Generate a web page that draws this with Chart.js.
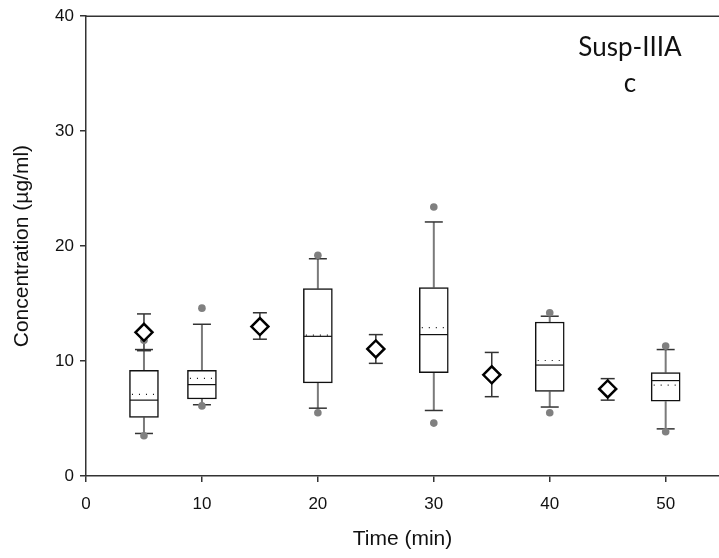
<!DOCTYPE html>
<html>
<head>
<meta charset="utf-8">
<script src="https://cdn.jsdelivr.net/npm/chart.js@4.4.1/dist/chart.umd.min.js"></script>
<style>
  body { margin: 0; background: #fff; }
  canvas { display: block; }
</style>
</head>
<body>
<canvas id="chart" width="719" height="558"></canvas>
<script>
// box plots
const boxX = [5, 10, 20, 30, 40, 50];
const boxQ1 = [5.1, 6.7, 8.1, 9.0, 7.35, 6.5];
const boxMedian = [6.6, 7.95, 12.15, 12.3, 9.65, 8.3];
const boxQ3 = [9.2, 9.2, 16.3, 16.4, 13.4, 9.0];
const boxMean = [7.1, 8.5, 12.25, 12.9, 10.05, 7.9];
const whiskLow = [3.7, 6.2, 5.9, 5.7, 6.0, 4.1];
const whiskHigh = [11.0, 13.2, 18.9, 22.1, 13.9, 11.0];
const outLow = [3.5, 6.1, 5.5, 4.6, 5.5, 3.85];
const outHigh = [11.8, 14.6, 19.2, 23.4, 14.2, 11.3];

// diamonds with error bars
const diaX = [5, 15, 25, 35, 45];
const diaMean = [12.5, 13.0, 11.05, 8.8, 7.57];
const diaLow = [10.9, 11.9, 9.8, 6.9, 6.6];
const diaHigh = [14.1, 14.2, 12.3, 10.75, 8.47];

const xTicks = [0, 10, 20, 30, 40, 50];
const yTicks = [0, 10, 20, 30, 40];

const ctx = document.getElementById('chart').getContext('2d');

const boxData = boxX.map((x, i) => ({ x: x, y: [boxQ1[i], boxQ3[i]] }));
const outlierData = [];
boxX.forEach((x, i) => {
    outlierData.push({ x: x, y: outLow[i] });
    outlierData.push({ x: x, y: outHigh[i] });
});
const diaData = diaX.map((x, i) => ({ x: x, y: diaMean[i] }));

function hLine(c, x1, x2, y) {
    c.beginPath();
    c.moveTo(x1, y);
    c.lineTo(x2, y);
    c.stroke();
}

function vLine(c, x, y1, y2) {
    c.beginPath();
    c.moveTo(x, y1);
    c.lineTo(x, y2);
    c.stroke();
}

const boxExtras = {
    id: 'boxExtras',
    beforeDatasetsDraw(chart) {
        const c = chart.ctx;
        const xs = chart.scales.x, ys = chart.scales.y;
        c.save();
        // whiskers
        boxX.forEach((x, i) => {
            const px = xs.getPixelForValue(x);
            c.strokeStyle = '#7a7a7a';
            c.lineWidth = 2;
            vLine(c, px, ys.getPixelForValue(boxQ3[i]), ys.getPixelForValue(whiskHigh[i]));
            vLine(c, px, ys.getPixelForValue(boxQ1[i]), ys.getPixelForValue(whiskLow[i]));
            c.strokeStyle = '#333';
            c.lineWidth = 1.5;
            hLine(c, px - 9, px + 9, ys.getPixelForValue(whiskHigh[i]));
            hLine(c, px - 9, px + 9, ys.getPixelForValue(whiskLow[i]));
        });
        // error bars of the diamonds
        diaX.forEach((x, i) => {
            const px = xs.getPixelForValue(x);
            c.strokeStyle = '#333';
            c.lineWidth = 1.5;
            vLine(c, px, ys.getPixelForValue(diaLow[i]), ys.getPixelForValue(diaHigh[i]));
            hLine(c, px - 7, px + 7, ys.getPixelForValue(diaHigh[i]));
            hLine(c, px - 7, px + 7, ys.getPixelForValue(diaLow[i]));
        });
        c.restore();
    },
    afterDatasetsDraw(chart) {
        const c = chart.ctx;
        const xs = chart.scales.x, ys = chart.scales.y;
        const a = chart.chartArea;
        c.save();
        boxX.forEach((x, i) => {
            const px = xs.getPixelForValue(x);
            c.strokeStyle = '#111';
            c.lineWidth = 1.2;
            hLine(c, px - 14, px + 14, ys.getPixelForValue(boxMedian[i]));
            c.setLineDash([1, 6]);
            hLine(c, px - 12, px + 14, ys.getPixelForValue(boxMean[i]));
            c.setLineDash([]);
        });
        // top frame line
        c.strokeStyle = '#333';
        c.lineWidth = 1.5;
        hLine(c, a.left, a.right, a.top);
        // panel label
        c.fillStyle = '#111';
        c.font = '26px Lato, "Open Sans", sans-serif';
        c.textAlign = 'center';
        c.textBaseline = 'alphabetic';
        c.fillText('Susp-IIIA', 630, 56);
        c.fillText('c', 630, 92);
        c.restore();
    }
};

const tickFont = { family: '"Liberation Sans", Arial, sans-serif', size: 17 };
const titleFont = { family: '"Liberation Sans", Arial, sans-serif', size: 21 };

const chart = new Chart(ctx, {
    data: {
        datasets: [{
            type: 'scatter',
            data: diaData,
            pointStyle: 'rectRot',
            pointRadius: 8.5,
            pointBackgroundColor: '#fff',
            pointBorderColor: '#000',
            pointBorderWidth: 2.5,
            order: 1,
        },
        {
            type: 'scatter',
            data: outlierData,
            pointRadius: 3.8,
            pointBackgroundColor: '#808080',
            pointBorderColor: '#808080',
            pointBorderWidth: 0,
            order: 2,
        },
        {
            type: 'bar',
            data: boxData,
            backgroundColor: '#fff',
            borderColor: '#111',
            borderWidth: 1.5,
            borderSkipped: false,
            barThickness: 29,
            order: 3,
        }]
    },
    options: {
        responsive: false,
        animation: false,
        layout: { autoPadding: false, padding: { top: 15, right: 0, left: 0, bottom: 0 } },
        plugins: {
            legend: { display: false },
            tooltip: { enabled: false },
        },
        scales: {
            x: {
                type: 'linear',
                min: 0,
                max: 54.6,
                offset: false,
                afterBuildTicks: (scale) => {
                    scale.ticks = xTicks.map(v => ({ value: v }));
                },
                afterFit: (scale) => {
                    scale.height = 82;
                    scale.paddingLeft = 0;
                    scale.paddingRight = 0;
                },
                grid: { offset: false, drawOnChartArea: false, drawTicks: true, tickLength: 6, color: '#333', lineWidth: 1.5 },
                border: { color: '#333', width: 1.5 },
                ticks: { font: tickFont, color: '#111', padding: 12, maxRotation: 0 },
                title: { display: true, text: 'Time (min)', font: titleFont, color: '#111', padding: { top: 0, bottom: 6 } },
            },
            y: {
                type: 'linear',
                min: 0,
                max: 40,
                afterBuildTicks: (scale) => {
                    scale.ticks = yTicks.map(v => ({ value: v }));
                },
                afterFit: (scale) => { scale.width = 86; },
                grid: { drawOnChartArea: false, drawTicks: true, tickLength: 6, color: '#333', lineWidth: 1.5 },
                border: { color: '#333', width: 1.5 },
                ticks: { font: tickFont, color: '#111', padding: 6 },
                title: { display: true, text: 'Concentration (µg/ml)', font: titleFont, color: '#111', padding: { top: 10, bottom: 0 } },
            }
        }
    },
    plugins: [boxExtras]
});
</script>
</body>
</html>
